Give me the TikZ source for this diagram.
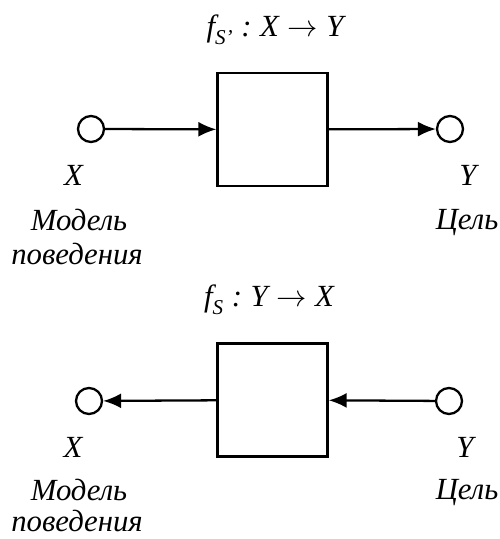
\documentclass[tikz,border=0pt]{standalone}
\usepackage{fontspec}
\setmainfont{Liberation Serif}
\usetikzlibrary{arrows.meta}

\newcommand{\fmap}[3]{\textit{f}\raisebox{-0.5ex}{\fontsize{12}{13}\selectfont\textit{#1}}\;:\;\textit{#2}\;$\rightarrow$\;\textit{#3}}

\begin{document}
\begin{tikzpicture}[
    line width=1.3pt,
    every node/.style={font=\fontsize{17.5}{20}\selectfont\itshape, anchor=base},
    term/.style={circle, draw, minimum size=5.2mm, inner sep=0pt, anchor=center},
    block/.style={rectangle, draw, minimum width=22mm, minimum height=22.6mm, anchor=center},
    link/.style={-{Latex[length=3.6mm,width=3mm]}}
]
\useasboundingbox (0,0) rectangle (10,-10.78);

% upper map
\node[block] (b1) at (5.45,-2.59) {};
\node[term] (x1) at (1.82,-2.58) {};
\node[term] (y1) at (9.0,-2.58) {};
\node (t1) at (5.5,-0.74) {\fmap{S'}{X}{Y}};
\node (lx1) at (1.47,-3.72) {X};
\node (ly1) at (9.36,-3.72) {Y};
\node (m1) at (1.58,-4.62) {Модель};
\node (p1) at (1.54,-5.3) {поведения};
\node (c1) at (9.34,-4.6) {Цель};

\draw[link] (x1) -- (b1);
\draw[link] (b1) -- (y1);

% lower map
\node[block] (b2) at (5.45,-8.0) {};
\node[term] (x2) at (1.78,-8.02) {};
\node[term] (y2) at (8.98,-8.02) {};
\node (t2) at (5.38,-6.14) {\fmap{S}{Y}{X}};
\node (lx2) at (1.46,-9.14) {X};
\node (ly2) at (9.3,-9.14) {Y};
\node (m2) at (1.58,-10.0) {Модель};
\node (p2) at (1.54,-10.62) {поведения};
\node (c2) at (9.34,-9.98) {Цель};

\draw[link] (b2) -- (x2);
\draw[link] (y2) -- (b2);
\end{tikzpicture}
\end{document}
